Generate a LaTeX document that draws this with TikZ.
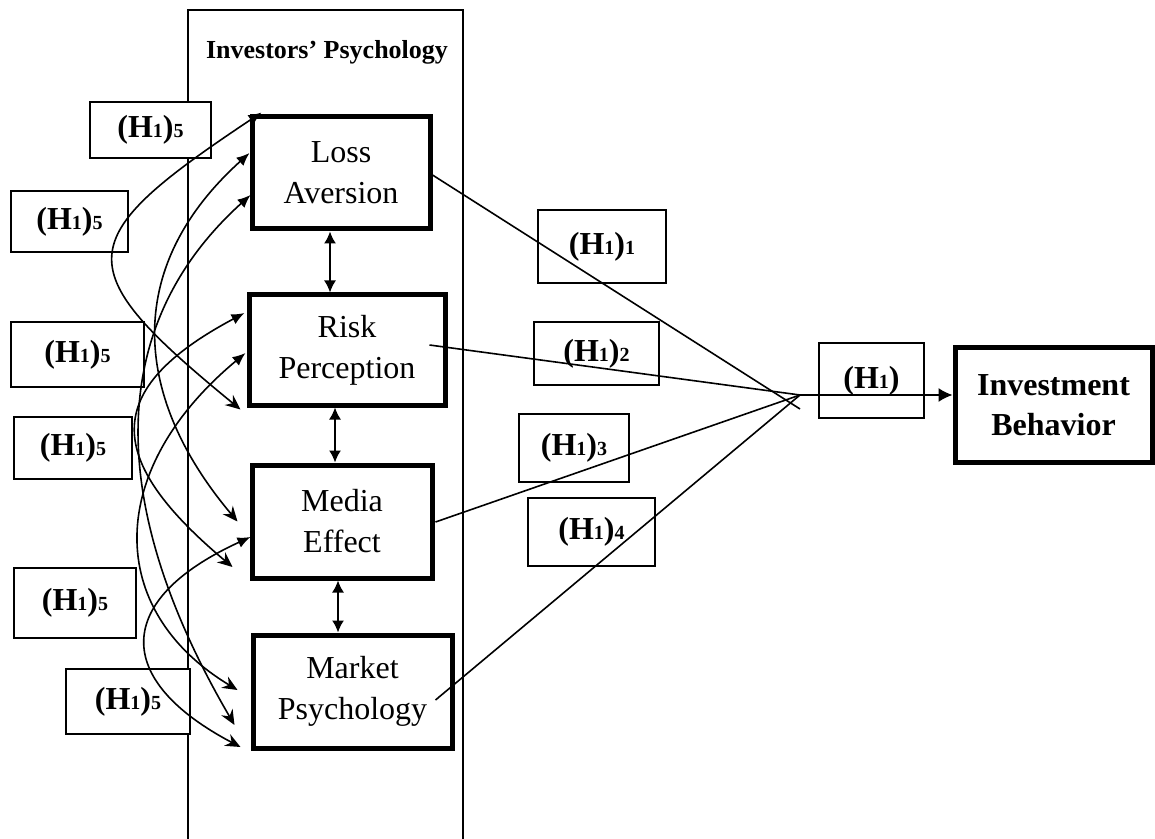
\documentclass[tikz,border=0pt]{standalone}
\usepackage{fontspec}
\setmainfont{Liberation Serif}
\usetikzlibrary{arrows.meta,calc}
\newcommand{\hsub}[1]{{\fontsize{10pt}{10pt}\selectfont #1}}
\newcommand{\hlab}[1]{(H\hsub{1})\hsub{#1}}
\begin{document}
\begin{tikzpicture}[x=0.5pt,y=-0.5pt,
  conn/.style={line width=0.8pt},
  mainbox/.style={draw,line width=2.5pt,align=center,inner sep=0pt,font=\fontsize{16pt}{20.5pt}\selectfont},
  labbox/.style={draw,line width=0.85pt,fill=white,inner sep=0pt,font=\bfseries\fontsize{16pt}{19pt}\selectfont},
  curv/.style={line width=0.8pt,{Latex[length=6.5pt,width=5.5pt]}-{Stealth[length=7.5pt,width=6.5pt,inset=2.5pt]}},
  dbl/.style={line width=0.8pt,{Latex[length=6pt,width=6pt]}-{Latex[length=6pt,width=6pt]}},
  tohub/.style={line width=0.8pt,-{Latex[length=7pt,width=7pt]}},
]
\useasboundingbox (0,0) rectangle (1155,839);
% frame
\draw[line width=1pt] (188,839) -- (188,10) -- (463,10) -- (463,839);
\node[font=\bfseries\fontsize{13pt}{15pt}\selectfont,inner sep=0pt] (title) at (327,52) {Investors’ Psychology};

% label boxes
\node[labbox,minimum width=60.5pt,minimum height=28pt] (L1) at (150.5,130) {\hlab{5}};
\node[labbox,minimum width=58.5pt,minimum height=30.5pt] (L2) at (69.5,221.5) {\hlab{5}};
\node[labbox,minimum width=66.5pt,minimum height=32.5pt] (L3) at (77.5,354.5) {\hlab{5}};
\node[labbox,minimum width=59pt,minimum height=31pt] (L4) at (73,448) {\hlab{5}};
\node[labbox,minimum width=61pt,minimum height=35pt] (L5) at (75,603) {\hlab{5}};
\node[labbox,minimum width=62pt,minimum height=32.5pt] (L6) at (128,701.5) {\hlab{5}};

\node[labbox,minimum width=64pt,minimum height=36.5pt] (h11) at (602,246.5) {\hlab{1}};
\node[labbox,minimum width=62.5pt,minimum height=31.5pt] (h12) at (596.5,353.5) {\hlab{2}};
\node[labbox,minimum width=55pt,minimum height=34pt] (h13) at (574,448) {\hlab{3}};
\node[labbox,minimum width=63.5pt,minimum height=34pt] (h14) at (591.5,532) {\hlab{4}};
\node[labbox,minimum width=52.5pt,minimum height=37.5pt] (h1) at (871.5,380.5) {(H\hsub{1})};

% main boxes
\node[mainbox,minimum width=89pt,minimum height=56pt] (la) at (341,173) {Loss\\Aversion};
\node[mainbox,minimum width=98pt,minimum height=55pt] (rp) at (347,350) {Risk\\Perception};
\node[mainbox,minimum width=90pt,minimum height=56.5pt] (me) at (342,521.5) {Media\\Effect};
\node[mainbox,minimum width=99.5pt,minimum height=56.5pt] (mp) at (352.5,691.5) {Market\\Psychology};
\node[mainbox,font=\bfseries\fontsize{16pt}{20pt}\selectfont,minimum width=98.5pt,minimum height=57pt] (ib) at (1053.5,405) {Investment\\Behavior};

% vertical double arrows
\draw[dbl] ($(la.south)+(-11,0)$) -- ($(rp.north)+(-17,0)$);
\draw[dbl] ($(rp.south)+(-12,0)$) -- ($(me.north)+(-7,0)$);
\draw[dbl] ($(me.south)+(-4,0)$) -- ($(mp.north)+(-14.5,0)$);

% lines to hub
\coordinate (hub) at (800,395);
\coordinate (laend) at (800,409);
\draw[conn] ($(la.east)+(0,2)$) -- (laend);
\draw[conn] ($(rp.east)+(-18,-5)$) -- (hub);
\draw[conn] ($(me.east)+(1,0.5)$) -- (hub);
\draw[conn] ($(mp.east)+(-19,8.5)$) -- (hub);
\draw[tohub] (hub) -- ($(ib.west)+(0,-10)$);

% curve end points
\coordinate (a1) at ($(la.north west)+(12,-2)$);
\coordinate (a2) at ($(la.west)+(0,-20)$);
\coordinate (a3) at ($(la.west)+(1,22)$);
\coordinate (b1) at ($(rp.west)+(-2,-37)$);
\coordinate (b2) at ($(rp.west)+(-1,3)$);
\coordinate (b3) at ($(rp.south west)+(-6,2)$);
\coordinate (c1) at ($(me.west)+(-12,0)$);
\coordinate (c2) at ($(me.west)+(1,15.5)$);
\coordinate (c3) at ($(me.west)+(-17,45.5)$);
\coordinate (d1) at ($(mp.west)+(-13,-1.5)$);
\coordinate (d2) at ($(mp.west)+(-16,33.5)$);
\coordinate (d3) at ($(mp.west)+(-10,55.5)$);

% curved bidirectional arrows
\draw[curv] (a1) .. controls (70,240) and (66.5,267) .. (b3);
\draw[curv] (a2) .. controls (120,270) and (135,400) .. (c1);
\draw[curv] (a3) .. controls (101,330) and (110,512) .. (d2);
\draw[curv] (b1) .. controls (100,390) and (105,460) .. (c3);
\draw[curv] (b2) .. controls (105,470) and (105,610) .. (d1);
\draw[curv] (c2) .. controls (113,600) and (113,680) .. (d3);
\end{tikzpicture}
\end{document}
